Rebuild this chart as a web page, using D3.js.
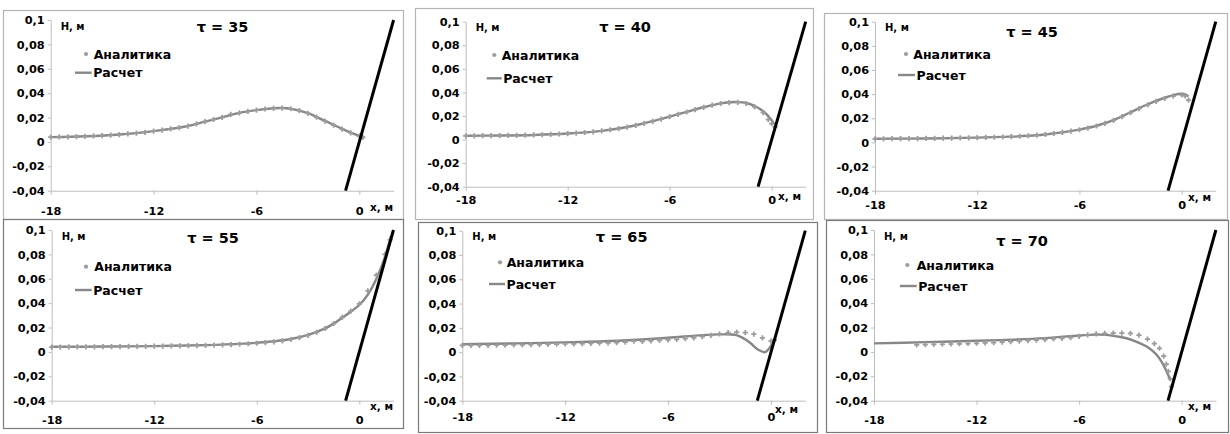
<!DOCTYPE html>
<html><head><meta charset="utf-8">
<script src="https://cdn.jsdelivr.net/npm/d3@7/dist/d3.min.js"></script>
<style>
body{margin:0;background:#fff;}
svg text{font-family:"DejaVu Sans",sans-serif;font-weight:bold;fill:#000;}
</style></head><body>
<svg id="c" width="1230" height="434"></svg>
<script>
// ---------- DATA ----------
const taus = [35, 40, 45, 55, 65, 70];
const xDomain = [-18, 2];
const yDomain = [-0.04, 0.1];
const xTicks = [-18, -12, -6, 0];
const yTicks = [-0.04, -0.02, 0, 0.02, 0.04, 0.06, 0.08, 0.1];
const seriesNames = ["Аналитика", "Расчет"];
const slopeX = [-0.8, 2];
const slopeH = [-0.04, 0.1];

// τ = 35
const aX35 = [-18,-17.5,-17,-16.5,-16,-15.5,-15,-14.5,-14,-13.5,-13,-12.5,-12,-11.5,-11,-10.5,-10,-9.5,-9,-8.5,-8,-7.5,-7,-6.5,-6,-5.5,-5,-4.5,-4,-3.5,-3,-2.5,-2,-1.5,-1,-0.5,0,0.2];
const aH35 = [.0040,.0041,.0042,.0044,.0046,.0049,.0052,.0056,.0060,.0066,.0072,.0079,.0088,.0097,.0107,.0118,.0130,.0148,.0166,.0184,.0202,.0226,.0239,.0251,.0261,.0270,.0275,.0278,.0272,.0257,.0234,.0203,.0170,.0137,.0105,.0075,.0048,.0037];
const rX35 = [-18,-16,-14,-12,-10,-9,-8,-7,-6,-5,-4.5,-4,-3,-2,-1,-0.5,0,0.3];
const rH35 = [.0039,.0046,.0061,.0089,.0131,.0166,.0201,.0238,.0261,.0276,.0278,.0272,.0236,.0172,.0107,.0077,.0050,.0036];

// τ = 40
const aX40 = [-18,-17.5,-17,-16.5,-16,-15.5,-15,-14.5,-14,-13.5,-13,-12.5,-12,-11.5,-11,-10.5,-10,-9.5,-9,-8.5,-8,-7.5,-7,-6.5,-6,-5.5,-5,-4.5,-4,-3.5,-3,-2.5,-2,-1.5,-1,-0.5,-0.2,0,0.2];
const aH40 = [.0032,.0032,.0033,.0033,.0034,.0035,.0036,.0037,.0039,.0041,.0044,.0047,.0051,.0055,.0060,.0066,.0074,.0083,.0093,.0106,.0120,.0137,.0155,.0174,.0194,.0214,.0234,.0254,.0273,.0292,.0306,.0314,.0316,.0306,.0278,.0228,.0170,.0135,.0108];
const rX40 = [-18,-16,-14,-12,-10,-9,-8,-7,-6,-5,-4,-3,-2.5,-2,-1.5,-1,-0.5,0,0.15];
const rH40 = [.0032,.0034,.0039,.0051,.0074,.0094,.0121,.0156,.0195,.0235,.0274,.0307,.0316,.0318,.0310,.0285,.0240,.0165,.0130];

// τ = 45
const aX45 = [-18,-17.5,-17,-16.5,-16,-15.5,-15,-14.5,-14,-13.5,-13,-12.5,-12,-11.5,-11,-10.5,-10,-9.5,-9,-8.5,-8,-7.5,-7,-6.5,-6,-5.5,-5,-4.5,-4,-3.5,-3,-2.5,-2,-1.5,-1,-0.5,0,0.2,0.4];
const aH45 = [.0030,.0030,.0031,.0031,.0032,.0032,.0033,.0034,.0035,.0036,.0037,.0038,.0040,.0041,.0043,.0045,.0048,.0051,.0055,.0060,.0066,.0074,.0083,.0093,.0105,.0119,.0136,.0157,.0182,.0213,.0246,.0280,.0311,.0340,.0364,.0383,.0393,.0385,.0350];
const rX45 = [-18,-15,-12,-10,-9,-8,-7,-6,-5,-4,-3,-2,-1,-0.5,0,0.2,0.4];
const rH45 = [.0030,.0033,.0040,.0048,.0055,.0066,.0083,.0106,.0138,.0185,.0250,.0316,.0370,.0392,.0403,.0398,.0380];

// τ = 55
const aX55 = [-18,-17.5,-17,-16.5,-16,-15.5,-15,-14.5,-14,-13.5,-13,-12.5,-12,-11.5,-11,-10.5,-10,-9.5,-9,-8.5,-8,-7.5,-7,-6.5,-6,-5.5,-5,-4.5,-4,-3.5,-3,-2.5,-2,-1.5,-1,-0.5,0,0.5,1,1.5,1.8];
const aH55 = [.0040,.0040,.0041,.0041,.0042,.0042,.0043,.0043,.0044,.0045,.0045,.0046,.0047,.0048,.0049,.0050,.0051,.0052,.0054,.0056,.0058,.0060,.0063,.0067,.0071,.0076,.0082,.0091,.0102,.0117,.0136,.0160,.0192,.0233,.0283,.0335,.0395,.0500,.0630,.0800,.0920];
const rX55 = [-18,-15,-12,-9,-7,-6,-5,-4,-3,-2,-1.5,-1,-0.5,0,0.5,1,1.5,1.85];
const rH55 = [.0042,.0044,.0048,.0056,.0066,.0075,.0088,.0106,.0140,.0193,.0232,.0280,.0330,.0385,.0470,.0600,.0780,.0950];

// τ = 65
const aX65 = [-18,-17.5,-17,-16.5,-16,-15.5,-15,-14.5,-14,-13.5,-13,-12.5,-12,-11.5,-11,-10.5,-10,-9.5,-9,-8.5,-8,-7.5,-7,-6.5,-6,-5.5,-5,-4.5,-4,-3.5,-3,-2.5,-2,-1.5,-1,-0.5,0,0.2];
const aH65 = [.0055,.0055,.0056,.0056,.0057,.0058,.0059,.0060,.0061,.0062,.0064,.0065,.0067,.0068,.0070,.0072,.0074,.0077,.0079,.0082,.0090,.0088,.0092,.0096,.0100,.0105,.0111,.0118,.0127,.0138,.0150,.0160,.0165,.0160,.0149,.0118,.0090,.0098];
const rX65 = [-18,-15,-12,-10,-8,-6,-4,-3,-2.1,-1.7,-1.2,-0.75,-0.35,-0.05,0.15];
const rH65 = [.0065,.0072,.0080,.0088,.0100,.0118,.0140,.0146,.0143,.0121,.0075,.0020,.0000,.0042,.0088];

// τ = 70
const aX70 = [-15.5,-15,-14.5,-14,-13.5,-13,-12.5,-12,-11.5,-11,-10.5,-10,-9.5,-9,-8.5,-8,-7.5,-7,-6.5,-6,-5.5,-5,-4.5,-4,-3.5,-3,-2.5,-2,-1.6,-1.3,-1.05,-0.9,-0.78,-0.67,-0.6];
const aH70 = [.0058,.0060,.0061,.0063,.0065,.0067,.0069,.0071,.0074,.0077,.0080,.0084,.0088,.0092,.0096,.0101,.0106,.0111,.0118,.0128,.0140,.0148,.0152,.0154,.0154,.0152,.0138,.0105,.0068,.0030,-.0035,-.0100,-.0160,-.0220,-.0285];
const rX70 = [-18,-15,-12,-10,-8,-6,-5,-4.4,-3.5,-3,-2.5,-2,-1.5,-1.2,-1,-0.8,-0.65];
const rH70 = [.0070,.0080,.0092,.0100,.0113,.0135,.0142,.0140,.0120,.0102,.0074,.0040,-.0018,-.0075,-.0125,-.0188,-.0235];

const analyticX = [aX35, aX40, aX45, aX55, aX65, aX70];
const analyticH = [aH35, aH40, aH45, aH55, aH65, aH70];
const calcX = [rX35, rX40, rX45, rX55, rX65, rX70];
const calcH = [rH35, rH40, rH45, rH55, rH65, rH70];

// ---------- LAYOUT ----------
const layout = [
 {frame:[3,10,400,209],  fc:"#b5b5b5", left:50.7, zero:359.3,  top:20,    bottom:190.7, tickDy:20,   xu:[10.7,17.3], title:[171.8,6.7], leg:[35.3,34,24.3,41,52.7,43]},
 {frame:[415,8,398,211], fc:"#b5b5b5", left:465.7, zero:771.7, top:21.7,  bottom:186.7, tickDy:12.6, xu:[6.3,10],    title:[159.3,5],   leg:[28.6,33.3,21,36,56.6,36]},
 {frame:[824,13,403,206],fc:"#b5b5b5", left:875,  zero:1181.7, top:21.7,  bottom:190.7, tickDy:14,   xu:[6.3,7.3],   title:[157,10],    leg:[31,32.3,23,40,53.3,38.3]},
 {frame:[3,219,400,209], fc:"#7a7a7a", left:51.7, zero:359.3,  top:230,   bottom:400.7, tickDy:18.6, xu:[10.7,6.3],  title:[161.3,7.3], leg:[34.3,36.7,23.3,40,60,42.6]},
 {frame:[418,222,399,210],fc:"#7a7a7a",left:462.3, zero:771,   top:230.7, bottom:400.7, tickDy:16,   xu:[4,9.3],     title:[159.4,6],   leg:[37.7,31.6,26.7,42.7,53.3,44.4]},
 {frame:[826,220,402,212],fc:"#7a7a7a",left:874,  zero:1181.7, top:230,   bottom:400.7, tickDy:18.6, xu:[6.3,6.3],   title:[148,10.7],  leg:[33.3,35,26,42.7,56,42.7]}
];

const fmt = d => String(d).replace(".", ",");
const svg = d3.select("#c");
const markerColor = "#9c9c9c", lineColor = "#878787", axisColor = "#bdbdbd";
const cross = d3.symbol().type(d3.symbolCross).size(15);
const legendDot = d3.symbol().type(d3.symbolCircle).size(14);

layout.forEach((L, i) => {
  const right = L.zero + 2 * (L.zero - L.left) / 18;
  const x = d3.scaleLinear().domain(xDomain).range([L.left, right]);
  const y = d3.scaleLinear().domain(yDomain).range([L.bottom, L.top]);
  const g = svg.append("g");

  g.append("rect").attr("x", L.frame[0] + 0.5).attr("y", L.frame[1] + 0.5)
    .attr("width", L.frame[2]).attr("height", L.frame[3])
    .attr("fill", "none").attr("stroke", L.fc).attr("stroke-width", 1.2);

  // axes
  const ya = g.append("g").attr("transform", `translate(${L.left},0)`)
    .call(d3.axisLeft(y).tickValues(yTicks).tickFormat(fmt).tickSize(3).tickSizeOuter(0).tickPadding(3));
  const xa = g.append("g").attr("transform", `translate(0,${L.bottom})`)
    .call(d3.axisBottom(x).tickValues(xTicks).tickFormat(fmt).tickSize(4).tickSizeOuter(0).tickPadding(L.tickDy - 7.8));
  [ya, xa].forEach(a => {
    a.select(".domain").attr("stroke", axisColor).attr("stroke-width", 1);
    a.selectAll(".tick line").attr("stroke", axisColor);
    a.selectAll("text").attr("font-size", 11.3).attr("font-family", "DejaVu Sans").attr("font-weight", "bold").attr("fill", "#111");
  });

  // series: Расчет line
  const pts = calcX[i].map((v, k) => [v, calcH[i][k]]);
  g.append("path").datum(pts)
    .attr("d", d3.line().x(d => x(d[0])).y(d => y(d[1])).curve(d3.curveCatmullRom.alpha(0.5)))
    .attr("fill", "none").attr("stroke", lineColor).attr("stroke-width", 2.4);

  // Аналитика markers
  const apts = analyticX[i].map((v, k) => [v, analyticH[i][k]]);
  g.append("g").selectAll("path").data(apts).join("path")
    .attr("d", cross).attr("transform", d => `translate(${x(d[0])},${y(d[1])})`)
    .attr("fill", markerColor);

  // beach slope
  g.append("line").attr("x1", x(slopeX[0])).attr("y1", y(slopeH[0]))
    .attr("x2", x(slopeX[1])).attr("y2", y(slopeH[1]))
    .attr("stroke", "#000").attr("stroke-width", 3);

  // labels
  g.append("text").attr("x", L.left + 10).attr("y", L.top + 6).attr("dy", "0.36em")
    .attr("font-size", 10).text("H, м");
  g.append("text").attr("x", L.zero + L.xu[0]).attr("y", L.bottom + L.xu[1]).attr("dy", "0.3em")
    .attr("font-size", 10.5).text("x, м");
  g.append("text").attr("x", L.left + L.title[0]).attr("y", L.top + L.title[1]).attr("dy", "0.36em")
    .attr("text-anchor", "middle").attr("font-size", 14.5).text("τ = " + taus[i]);

  // legend
  const lg = L.leg;
  g.append("path").attr("d", legendDot).attr("transform", `translate(${L.left + lg[0]},${L.top + lg[1]})`).attr("fill", markerColor);
  g.append("text").attr("x", L.left + lg[5]).attr("y", L.top + lg[1]).attr("dy", "0.36em")
    .attr("font-size", 12.5).text(seriesNames[0]);
  g.append("line").attr("x1", L.left + lg[2]).attr("x2", L.left + lg[3])
    .attr("y1", L.top + lg[4]).attr("y2", L.top + lg[4])
    .attr("stroke", lineColor).attr("stroke-width", 2.4);
  g.append("text").attr("x", L.left + lg[3] + 1.5).attr("y", L.top + lg[4]).attr("dy", "0.36em")
    .attr("font-size", 12.5).text(seriesNames[1]);
});
</script>
</body></html>
